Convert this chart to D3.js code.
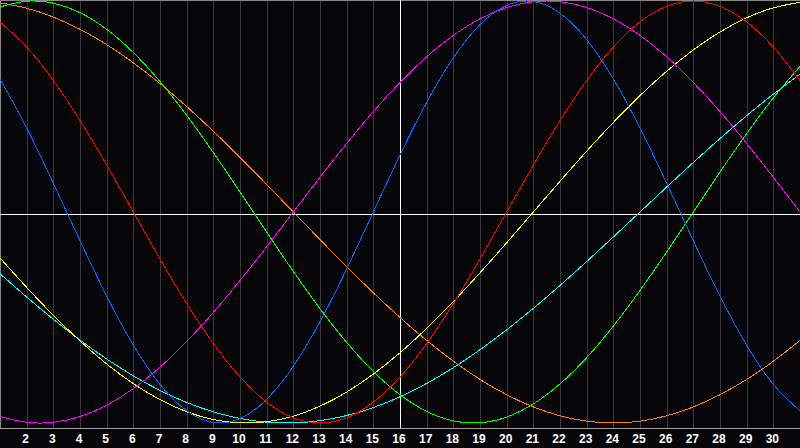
<!DOCTYPE html>
<html lang="en">
  <head>
    <meta charset="utf-8" />
    <title>Biorhythm chart</title>
    <script type="text/javascript" src="https://cdn.jsdelivr.net/npm/d3@7"></script>
    <style type="text/css">
      html, body {
        margin: 0;
        padding: 0;
        background: #000;
      }
      svg {
        display: block;
      }
      .curve {
        fill: none;
        stroke-width: 1;
        shape-rendering: crispEdges;
      }
      .day-label {
        font-family: "Liberation Sans", sans-serif;
        font-size: 12px;
        font-weight: bold;
        fill: #fff;
      }
    </style>
  </head>
  <body>
    <script type="text/javascript">
      var w = 800;
      var h = 448;
      var plotH = 428;

      //days shown on the chart, and the ones that get a label
      var days = [1, 2, 3, 4, 5, 6, 7, 8, 9, 10, 11, 12, 13, 14, 15, 16,
        17, 18, 19, 20, 21, 22, 23, 24, 25, 26, 27, 28, 29, 30, 31];
      var dayTicks = [2, 3, 4, 5, 6, 7, 8, 9, 10, 11, 12, 13, 14, 15, 16,
        17, 18, 19, 20, 21, 22, 23, 24, 25, 26, 27, 28, 29, 30];
      var today = 16;

      //values, one per day (-1 .. 1)
      var physical = [0.6311, 0.3984, 0.1362, -0.1362, -0.3984, -0.6311, -0.817, -0.9423,
        -0.9977, -0.9791, -0.8879, -0.7308, -0.5196, -0.2698, 0, 0.2698, 0.5196, 0.7308,
        0.8879, 0.9791, 0.9977, 0.9423, 0.817, 0.6311, 0.3984, 0.1362, -0.1362, -0.3984,
        -0.6311, -0.817, -0.9423];
      var emotional = [0.901, 0.7818, 0.6235, 0.4339, 0.2225, 0, -0.2225, -0.4339,
        -0.6235, -0.7818, -0.901, -0.9749, -1, -0.9749, -0.901, -0.7818, -0.6235, -0.4339,
        -0.2225, 0, 0.2225, 0.4339, 0.6235, 0.7818, 0.901, 0.9749, 1, 0.9749, 0.901,
        0.7818, 0.6235];
      var intellectual = [0.9718, 0.9989, 0.9898, 0.945, 0.866, 0.7557, 0.6182, 0.4582,
        0.2817, 0.0951, -0.0951, -0.2817, -0.4582, -0.6182, -0.7557, -0.866, -0.945,
        -0.9898, -0.9989, -0.9718, -0.9096, -0.8146, -0.6901, -0.5406, -0.3717, -0.1893,
        0, 0.1893, 0.3717, 0.5406, 0.6901];
      var intuitive = [-0.9694, -0.9966, -0.9966, -0.9694, -0.9158, -0.8372, -0.7357,
        -0.6142, -0.4759, -0.3247, -0.1646, 0, 0.1646, 0.3247, 0.4759, 0.6142, 0.7357,
        0.8372, 0.9158, 0.9694, 0.9966, 0.9966, 0.9694, 0.9158, 0.8372, 0.7357, 0.6142,
        0.4759, 0.3247, 0.1646, 0];
      var aesthetic = [-0.2174, -0.3572, -0.4894, -0.6113, -0.7203, -0.8136, -0.8894,
        -0.9465, -0.9834, -0.9993, -0.994, -0.9675, -0.9203, -0.8533, -0.7683, -0.6671,
        -0.5517, -0.4245, -0.2881, -0.1456, 0, 0.1456, 0.2881, 0.4245, 0.5517, 0.6671,
        0.7683, 0.8533, 0.9203, 0.9675, 0.994];
      var awareness = [0.9914, 0.9659, 0.9239, 0.866, 0.7934, 0.7071, 0.6088, 0.5,
        0.3827, 0.2588, 0.1305, 0, -0.1305, -0.2588, -0.3827, -0.5, -0.6088, -0.7071,
        -0.7934, -0.866, -0.9239, -0.9659, -0.9914, -1, -0.9914, -0.9659, -0.9239,
        -0.866, -0.7934, -0.7071, -0.6088];
      var spiritual = [-0.2921, -0.4031, -0.5084, -0.6068, -0.6966, -0.7766, -0.8457,
        -0.9028, -0.9473, -0.9786, -0.9961, -0.9996, -0.989, -0.9646, -0.9267, -0.8758,
        -0.8125, -0.7377, -0.6527, -0.5586, -0.4566, -0.3482, -0.2349, -0.1183, 0,
        0.1183, 0.2349, 0.3482, 0.4566, 0.5586, 0.6527];

      var series = [
        { values: awareness, color: "#ff8000" },
        { values: spiritual, color: "#00ffff" },
        { values: aesthetic, color: "#ffff00" },
        { values: intuitive, color: "#ff00ff" },
        { values: intellectual, color: "#00ff00" },
        { values: emotional, color: "#ff0000" },
        { values: physical, color: "#0a64ff" }
      ];

      var xScale = d3.scaleLinear().domain([1, 31]).range([0, w]);
      var yScale = d3.scaleLinear().domain([-1, 1]).range([423, 1]);

      var svg = d3
        .select("body")
        .append("svg")
        .attr("width", w)
        .attr("height", h);

      svg
        .append("rect")
        .attr("width", w)
        .attr("height", h)
        .attr("fill", "#060609");

      //day grid
      svg
        .append("g")
        .selectAll("line")
        .data(dayTicks)
        .enter()
        .append("line")
        .attr("x1", function (d) {
          return Math.round(xScale(d)) + 0.5;
        })
        .attr("x2", function (d) {
          return Math.round(xScale(d)) + 0.5;
        })
        .attr("y1", 0)
        .attr("y2", plotH)
        .attr("stroke", "#3a3a3e");

      //frame
      svg
        .append("path")
        .attr("d", "M0.5," + plotH + "V0.5H" + w)
        .attr("fill", "none")
        .attr("stroke", "#8a8a8a");
      svg
        .append("line")
        .attr("x1", 0)
        .attr("x2", w)
        .attr("y1", plotH + 0.5)
        .attr("y2", plotH + 0.5)
        .attr("stroke", "#a0a0a0");

      //centre cross
      svg
        .append("line")
        .attr("x1", 0)
        .attr("x2", w)
        .attr("y1", plotH / 2 + 0.5)
        .attr("y2", plotH / 2 + 0.5)
        .attr("stroke", "#ffffff");
      svg
        .append("line")
        .attr("x1", Math.round(xScale(today)) + 0.5)
        .attr("x2", Math.round(xScale(today)) + 0.5)
        .attr("y1", 0)
        .attr("y2", plotH)
        .attr("stroke", "#ffffff");

      //curves
      var line = d3
        .line()
        .x(function (d, i) {
          return xScale(days[i]);
        })
        .y(function (d) {
          return yScale(d);
        })
        .curve(d3.curveNatural);

      svg
        .append("g")
        .selectAll("path")
        .data(series)
        .enter()
        .append("path")
        .attr("class", "curve")
        .attr("stroke", function (d) {
          return d.color;
        })
        .attr("d", function (d) {
          return line(d.values);
        });

      //day labels
      svg
        .append("g")
        .selectAll("text")
        .data(dayTicks)
        .enter()
        .append("text")
        .attr("class", "day-label")
        .attr("x", function (d) {
          return xScale(d) - 1;
        })
        .attr("y", 443)
        .attr("text-anchor", "middle")
        .text(function (d) {
          return d;
        });
    </script>
  </body>
</html>
